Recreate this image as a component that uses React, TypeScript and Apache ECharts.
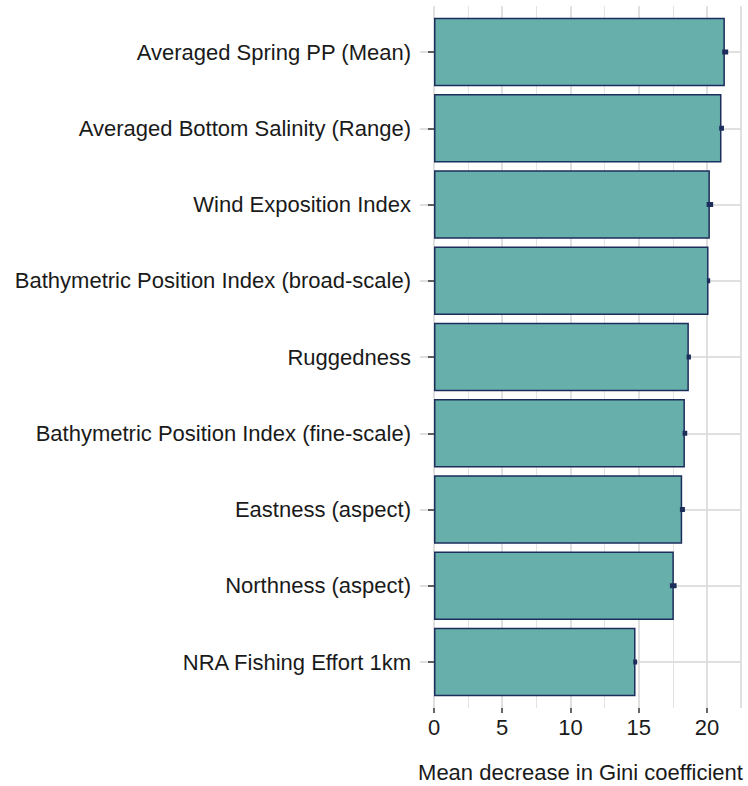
import React, { useEffect, useRef } from "react";
import * as echarts from "echarts";

const categories = [
  "Averaged Spring PP (Mean)",
  "Averaged Bottom Salinity (Range)",
  "Wind Exposition Index",
  "Bathymetric Position Index (broad-scale)",
  "Ruggedness",
  "Bathymetric Position Index (fine-scale)",
  "Eastness (aspect)",
  "Northness (aspect)",
  "NRA Fishing Effort 1km",
];
const meanDecrease = [21.32, 21.07, 20.22, 20.12, 18.68, 18.39, 18.19, 17.58, 14.77];
const errLow = [21.12, 20.9, 19.98, 20.0, 18.51, 18.22, 18.02, 17.29, 14.6];
const errHigh = [21.56, 21.25, 20.46, 20.24, 18.83, 18.56, 18.39, 17.78, 14.89];
const xTicks = [0, 5, 10, 15, 20];
const xTitle = "Mean decrease in Gini coefficient";

const FONT = "'Liberation Sans', Arial, sans-serif";
const FILL = "#67AFAB";
const NAVY = "#1D2E5C";
const FS = 22;

export default function App() {
  const ref = useRef<HTMLDivElement>(null);
  useEffect(() => {
    document.body.style.margin = "0";
    const chart = echarts.init(ref.current!, null, { renderer: "svg" });
    const pxPerUnit = 307.1 / 22.5;
    const leftPad = 14 / pxPerUnit;
    const option: any = {
      animation: false,
      backgroundColor: "#ffffff",
      textStyle: { fontFamily: FONT },
      grid: [
        { left: 420, width: 321, top: 52, height: 610, outerBoundsMode: "none", containLabel: false },
        { left: 434, width: 307.1, top: 6, height: 702, outerBoundsMode: "none", containLabel: false },
      ],
      xAxis: [
        {
          type: "value",
          gridIndex: 0,
          position: "bottom",
          min: -leftPad,
          max: 22.5,
          show: true,
          axisLine: { show: false },
          axisTick: { show: false },
          axisLabel: { show: false },
          splitLine: { show: false },
          name: xTitle,
          nameLocation: "middle",
          nameGap: 99,
          nameTextStyle: { fontSize: FS, color: "#1a1a1a", fontFamily: FONT },
        },
        {
          type: "value",
          gridIndex: 1,
          position: "bottom",
          min: 0,
          max: 22.5,
          interval: 5,
          axisLine: { show: false },
          axisTick: { show: false },
          axisLabel: { show: false },
          splitLine: { show: true, lineStyle: { color: "#d6d6d6", width: 1.5 } },
        },
        {
          type: "value",
          gridIndex: 1,
          position: "bottom",
          min: 0,
          max: 22.5,
          interval: 2.5,
          axisLine: { show: false },
          axisTick: { show: false },
          axisLabel: { show: false },
          splitLine: { show: true, lineStyle: { color: "#e0e0e0", width: 0.9 } },
        },
        {
          type: "value",
          gridIndex: 1,
          position: "bottom",
          offset: 0,
          min: 0,
          max: 22.5,
          interval: 5,
          axisLine: { show: false },
          axisTick: {
            show: true,
            length: 5,
            customValues: xTicks,
            lineStyle: { color: "#333333", width: 1.5 },
          },
          axisLabel: {
            show: true,
            customValues: xTicks,
            margin: 8,
            fontSize: FS,
            color: "#1a1a1a",
            fontFamily: FONT,
            formatter: (v: number) => (xTicks.indexOf(v) >= 0 ? String(v) : ""),
          },
          splitLine: { show: false },
        },
      ],
      yAxis: [
        {
          type: "category",
          gridIndex: 0,
          data: categories,
          inverse: true,
          boundaryGap: false,
          axisLine: { show: false },
          axisTick: { show: true, length: 6, lineStyle: { color: "#333333", width: 1.5 } },
          axisLabel: { margin: 9, fontSize: FS, color: "#1a1a1a", fontFamily: FONT },
          splitLine: { show: true, lineStyle: { color: "#d6d6d6", width: 1.5 } },
        },
        {
          type: "value",
          gridIndex: 1,
          show: false,
          splitLine: { show: false },
        },
      ],
      series: [
        {
          type: "bar",
          xAxisIndex: 0,
          yAxisIndex: 0,
          data: meanDecrease,
          barCategoryGap: "10%",
          clip: false,
          itemStyle: { color: FILL, borderColor: NAVY, borderWidth: 1.5 },
          z: 3,
        },
        {
          type: "custom",
          xAxisIndex: 0,
          yAxisIndex: 0,
          clip: false,
          z: 4,
          data: categories.map((c, i) => [errLow[i], errHigh[i], i]),
          encode: { x: [0, 1], y: 2 },
          renderItem: (params: any, api: any) => {
            const idx = api.value(2);
            const p1 = api.coord([api.value(0), idx]);
            const p2 = api.coord([api.value(1), idx]);
            return {
              type: "rect",
              shape: { x: p1[0], y: p1[1] - 2.5, width: Math.max(p2[0] - p1[0], 3), height: 5 },
              style: { fill: NAVY },
            };
          },
        },
      ],
    };
    chart.setOption(option);
    return () => chart.dispose();
  }, []);
  return (
    <div
      ref={ref}
      style={{ position: "fixed", left: 0, top: 0, width: 748, height: 786 }}
    />
  );
}
